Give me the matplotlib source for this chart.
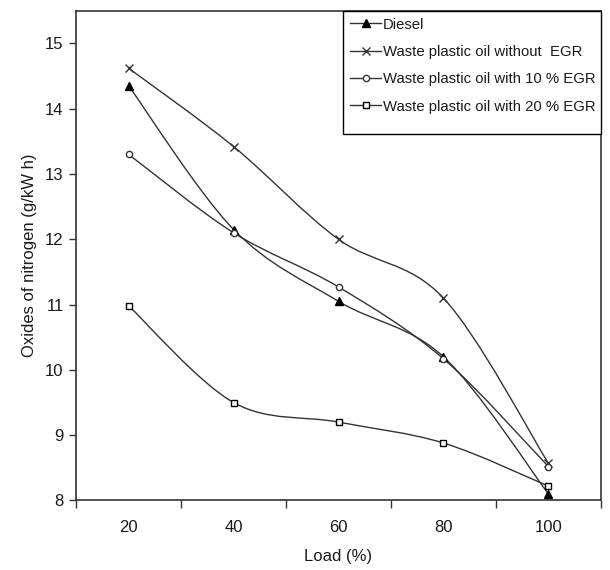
"""NOx emissions vs load for diesel and waste plastic oil with EGR."""

import matplotlib
matplotlib.use("Agg")
import matplotlib.pyplot as plt
import numpy as np
from matplotlib.path import Path
from matplotlib.patches import PathPatch, Rectangle
from matplotlib.lines import Line2D

plt.rcParams["font.family"] = ["Liberation Sans", "DejaVu Sans"]

load = [20, 40, 60, 80, 100]
diesel = [14.35, 12.15, 11.05, 10.2, 8.1]
wpo_no_egr = [14.62, 13.42, 12.0, 11.1, 8.57]
wpo_10_egr = [13.3, 12.1, 11.27, 10.17, 8.52]
wpo_20_egr = [10.98, 9.5, 9.2, 8.88, 8.22]

series = [
    ("Diesel", diesel, "^"),
    ("Waste plastic oil without  EGR", wpo_no_egr, "x"),
    ("Waste plastic oil with 10 % EGR", wpo_10_egr, "o"),
    ("Waste plastic oil with 20 % EGR", wpo_20_egr, "s"),
]

LINE = "#333333"
TEXT = "#1a1a1a"


def smooth_path(x, y):
    # spreadsheet-style smoothed line: cubic bezier through every point
    pts = np.column_stack([x, y]).astype(float)
    n = len(pts)
    verts = [pts[0]]
    codes = [Path.MOVETO]
    for i in range(n - 1):
        p0 = pts[i - 1] if i > 0 else pts[i]
        p1 = pts[i]
        p2 = pts[i + 1]
        p3 = pts[i + 2] if i + 2 < n else pts[i + 1]
        c1 = p1 + (p2 - p0) / 6
        c2 = p2 - (p3 - p1) / 6
        verts += [c1, c2, p2]
        codes += [Path.CURVE4] * 3
    return Path(verts, codes)


fig = plt.figure(figsize=(6.1, 5.7), dpi=100)
ax = fig.add_axes([0.125, 0.122, 0.86, 0.859])

handles = []
for name, vals, mk in series:
    ax.add_patch(PathPatch(smooth_path(load, vals), facecolor="none",
                           edgecolor=LINE, lw=1.0))
    if mk == "^":
        style = dict(marker="^", ms=6, mfc="black", mec="black")
    elif mk == "x":
        style = dict(marker="x", ms=6, mec=LINE, mew=1.0)
    elif mk == "o":
        style = dict(marker="o", ms=4.5, mfc="white", mec=LINE, mew=1.0)
    else:
        style = dict(marker="s", ms=5, mfc="white", mec="black", mew=1.0)
    ax.plot(load, vals, ls="none", zorder=3, **style)
    handles.append(Line2D([], [], color=LINE, lw=1.0, **style))

ax.set_xlim(10, 110)
ax.set_ylim(8, 15.5)
ax.set_xticks([10, 30, 50, 70, 90, 110])
ax.set_xticklabels([])
ax.set_xticks(load, minor=True)
ax.set_xticklabels([str(v) for v in load], minor=True)
ax.tick_params(axis="x", which="major", direction="out", length=6,
               width=1, color=LINE)
ax.tick_params(axis="x", which="minor", length=0, pad=14,
               labelsize=12, labelcolor=TEXT)
ax.set_yticks(range(8, 16))
ax.tick_params(axis="y", direction="out", length=5, width=1, color=LINE,
               labelsize=12, labelcolor=TEXT, pad=4)
for s in ax.spines.values():
    s.set_color(LINE)
    s.set_linewidth(1.2)

ax.set_xlabel("Load (%)", fontsize=12, color=TEXT, labelpad=10)
ax.set_ylabel("Oxides of nitrogen (g/kW h)", fontsize=12, color=TEXT,
              labelpad=6)

# legend box drawn by hand: the original has extra room under the last entry
box_left, box_bottom = 0.509, 0.748
ax.add_patch(Rectangle((box_left, box_bottom), 1 - box_left, 1 - box_bottom,
                       transform=ax.transAxes, facecolor="white",
                       edgecolor="black", lw=1.0, zorder=4.5, clip_on=False))
leg = ax.legend(handles, [s[0] for s in series], loc="upper left",
                bbox_to_anchor=(box_left, 1.0), borderaxespad=0,
                fontsize=10.7, handlelength=2.1, handletextpad=0.1,
                labelspacing=0.9, frameon=False, borderpad=0.45)
for t in leg.get_texts():
    t.set_color(TEXT)

fig.savefig("out.png", dpi=100)
